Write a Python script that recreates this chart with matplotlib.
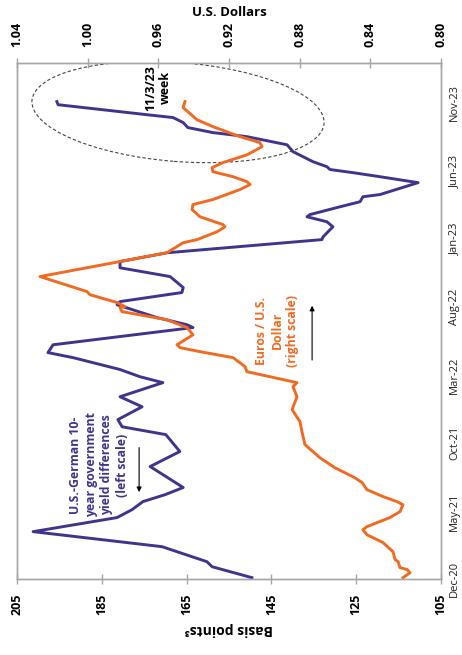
import numpy as np
import pandas as pd
import matplotlib
matplotlib.use('Agg')
import matplotlib.pyplot as plt
from matplotlib.patches import Ellipse

plt.rcParams['font.family'] = ['Open Sans', 'DejaVu Sans']

# weeks counted from the first weekly observation (4 Dec 2020)
start = pd.Timestamp('2020-12-04')

# U.S.-German 10-year government yield difference, basis points (left scale)
spread_weeks = [0, 3.5, 5.1, 9.9, 14.7, 19.2, 21.7, 24.3, 26.5, 28.8, 31.9, 35.5, 40.3,
                45.7, 48.2, 50.5, 54.6, 57.8, 62.3, 64.2, 66.5, 70.3, 71.9, 74.4, 79.9,
                80.8, 83.1, 87.2, 88.2, 91.1, 92.7, 96.2, 99.0, 101.0, 103.8, 108.0, 108.9,
                112.1, 113.7, 115.3, 116.0, 118.5, 120.1, 121.7, 122.4, 126.2, 128.1, 129.4,
                130.4, 131.3, 132.9, 136.1, 138.3, 140.9, 142.2, 143.8, 145.4, 147.0, 147.9,
                151.1, 152.1]
spread_bp = [149.6, 159.0, 160.2, 170.8, 201.2, 181.4, 177.9, 175.3, 170.1, 165.8, 169.4,
             173.6, 166.6, 169.9, 180.2, 181.2, 175.5, 180.7, 170.6, 176.0, 180.7, 191.8,
             197.7, 196.5, 163.5, 164.9, 172.0, 181.4, 180.7, 166.1, 165.8, 168.9, 180.7,
             180.7, 169.6, 133.1, 132.8, 130.5, 131.9, 136.6, 135.9, 128.8, 124.1, 123.4,
             119.4, 110.4, 119.4, 125.8, 131.2, 131.9, 135.2, 139.9, 141.3, 150.8, 158.8,
             164.7, 165.8, 168.2, 174.3, 195.3, 195.6]

# Euros per U.S. dollar (right scale)
eur_weeks = [0, 1.6, 2.6, 3.2, 5.1, 5.8, 8.3, 11.2, 13.7, 15.3, 16.3, 19.2, 21.1, 23.3,
             24.3, 25.9, 28.1, 30.4, 31.9, 35.1, 38.3, 42.5, 46.6, 49.8, 53.7, 57.8, 61.0,
             62.3, 65.8, 67.4, 70.3, 72.2, 73.5, 74.4, 77.6, 79.9, 82.4, 85.0, 86.3, 86.6,
             87.9, 90.4, 91.4, 96.2, 103.2, 103.8, 107.0, 108.0, 110.5, 112.1, 112.8, 115.3,
             117.6, 119.2, 120.8, 124.0, 125.6, 126.5, 128.1, 129.7, 131.0, 132.6, 135.1,
             137.7, 139.0, 140.9, 144.1, 146.3, 150.2, 152.1]
eur_usd = [0.8215, 0.8175, 0.8192, 0.8232, 0.8243, 0.8260, 0.8272, 0.8328, 0.8419, 0.8442,
           0.8419, 0.8289, 0.8232, 0.8215, 0.8249, 0.8328, 0.8419, 0.8447, 0.8487, 0.8600,
           0.8685, 0.8770, 0.8787, 0.8798, 0.8843, 0.8815, 0.8838, 0.8815, 0.9098, 0.9109,
           0.9177, 0.9364, 0.9477, 0.9494, 0.9404, 0.9438, 0.9551, 0.9806, 0.9817, 0.9789,
           0.9834, 0.9987, 1.0004, 1.0270, 0.9608, 0.9551, 0.9460, 0.9381, 0.9268, 0.9223,
           0.9234, 0.9364, 0.9409, 0.9404, 0.9291, 0.9138, 0.9081, 0.9098, 0.9177, 0.9291,
           0.9296, 0.9234, 0.9098, 0.9013, 0.9025, 0.9138, 0.9291, 0.9381, 0.9460, 0.9449]

date_ticks = ['2020-12-01', '2021-05-01', '2021-10-01', '2022-03-01', '2022-08-01',
              '2023-01-01', '2023-06-01', '2023-11-01']
date_labels = ['Dec-20', 'May-21', 'Oct-21', 'Mar-22', 'Aug-22', 'Jan-23', 'Jun-23', 'Nov-23']
bp_ticks = [205, 185, 165, 145, 125, 105]
usd_ticks = [1.04, 1.00, 0.96, 0.92, 0.88, 0.84, 0.80]

PURPLE = '#40348f'
ORANGE = '#f26a22'
GRID = '#a6a6a6'

spread_dates = start + pd.to_timedelta(np.array(spread_weeks) * 7, unit='D')
eur_dates = start + pd.to_timedelta(np.array(eur_weeks) * 7, unit='D')

fig = plt.figure(figsize=(4.62, 6.55), dpi=100)
ax = fig.add_axes([17 / 462, 76 / 655, 424 / 462, 516 / 655])
ax.plot(spread_bp, spread_dates, color=PURPLE, lw=2.1, solid_joinstyle='round')
ax.set_xlim(205, 105)
ax.set_ylim(pd.Timestamp('2020-12-01'), pd.Timestamp('2024-01-29'))

ax2 = ax.twiny()
ax2.plot(eur_usd, eur_dates, color=ORANGE, lw=2.1, solid_joinstyle='round')
ax2.set_xlim(1.04, 0.80)

# bottom: basis points (the whole chart is turned on its side)
ax.set_xticks(bp_ticks, labels=[str(v) for v in bp_ticks])
ax.tick_params(axis='x', direction='inout', length=7, color=GRID, width=1,
               labelrotation=90, labelsize=9, pad=7)
for t in ax.get_xticklabels():
    t.set_fontweight('bold')
ax.set_xlabel('Basis points³', fontsize=10, fontweight='bold', rotation=180, labelpad=5)

# top: U.S. dollars
ax2.set_xticks(usd_ticks, labels=['%.2f' % v for v in usd_ticks])
ax2.tick_params(axis='x', direction='inout', length=7, color=GRID, width=1,
                labelrotation=90, labelsize=9, pad=8)
for t in ax2.get_xticklabels():
    t.set_fontweight('bold')
ax2.set_xlabel('U.S. Dollars', fontsize=9.5, fontweight='bold', labelpad=4)

# right: dates
ax.yaxis.tick_right()
ax.set_yticks(pd.to_datetime(date_ticks), labels=date_labels)
ax.tick_params(axis='y', length=0, labelrotation=90, labelsize=8, pad=6, labelcolor='#222222')
for t in ax.get_yticklabels():
    t.set_va('center')

for a in (ax, ax2):
    for s in a.spines.values():
        s.set_color(GRID)
        s.set_linewidth(1.0)

ax.text(0.193, 0.221, 'U.S.-German 10-\nyear government\nyield differences\n(left scale)',
        transform=ax.transAxes, rotation=90, ha='center', va='center', color=PURPLE,
        fontsize=8.8, fontweight='bold', linespacing=1.25, multialignment='center')
ax.annotate('', xy=(0.288, 0.163), xytext=(0.288, 0.260), xycoords='axes fraction',
            arrowprops=dict(arrowstyle='-|>', color='black', lw=0.8, mutation_scale=7))

ax.text(0.613, 0.481, 'Euros / U.S.\nDollar\n(right scale)', transform=ax.transAxes,
        rotation=90, ha='center', va='center', color=ORANGE, fontsize=8.8,
        fontweight='bold', linespacing=1.25, multialignment='center')
ax.annotate('', xy=(0.696, 0.535), xytext=(0.696, 0.419), xycoords='axes fraction',
            arrowprops=dict(arrowstyle='-|>', color='black', lw=0.8, mutation_scale=7))

ax.text(0.333, 0.952, '11/3/23\nweek', transform=ax.transAxes, rotation=90,
        ha='center', va='center', fontsize=9, fontweight='bold', linespacing=1.2,
        multialignment='center')
ax2.add_patch(Ellipse((1.78, 5.43), 2.93, 0.99, angle=-4.5, transform=fig.dpi_scale_trans,
                      fill=False, ls=(0, (3, 2)), lw=0.8, ec='#444444'))

fig.savefig('out.png', dpi=100)
